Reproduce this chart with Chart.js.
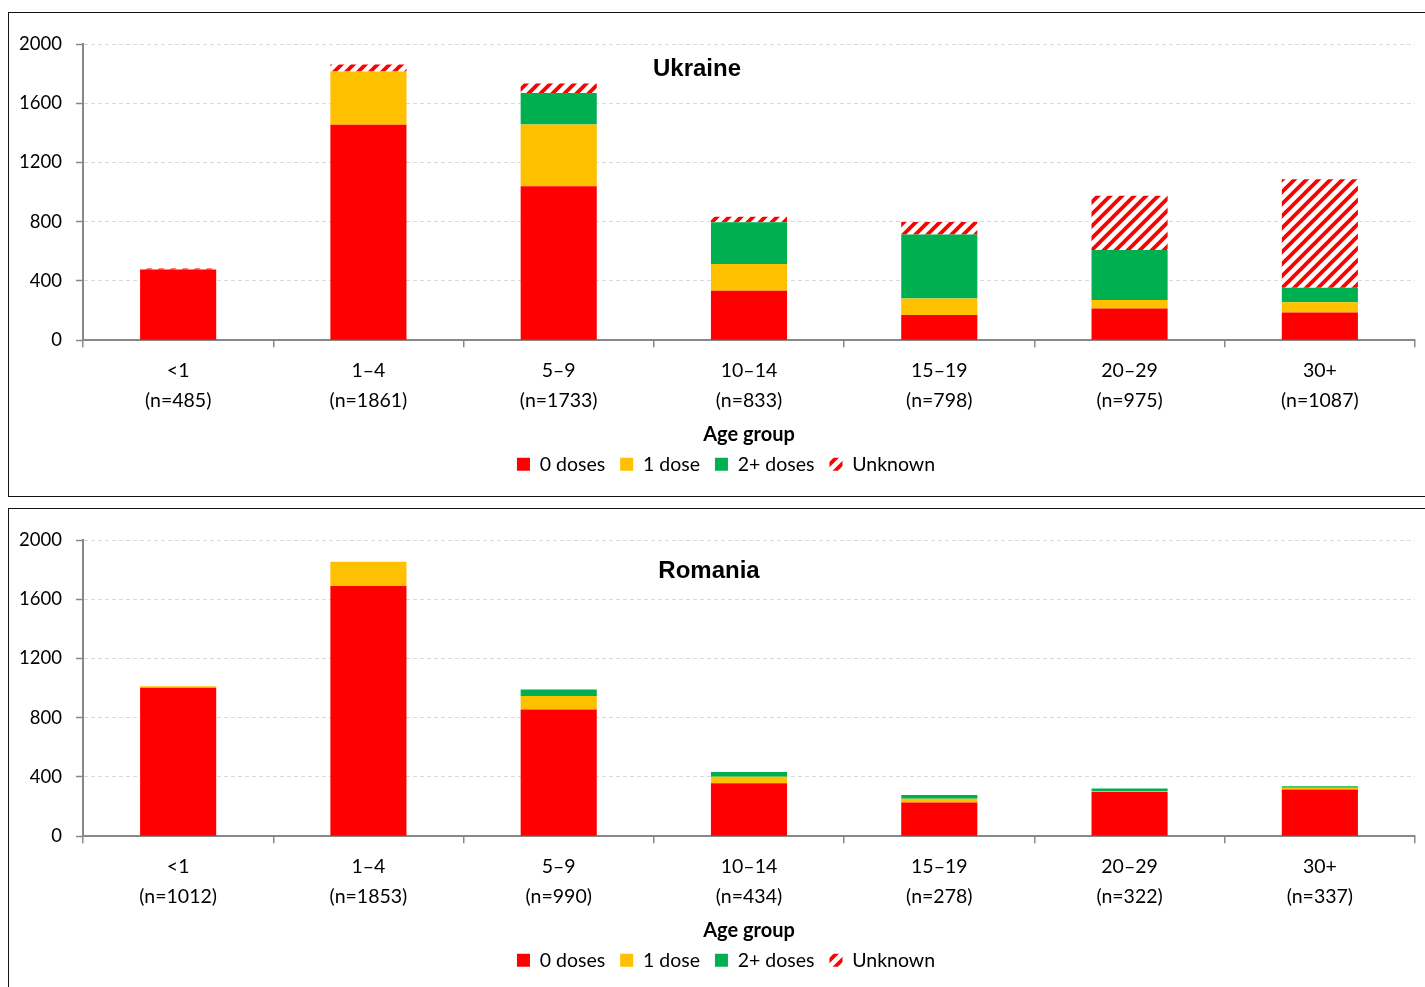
<!DOCTYPE html>
<html>
<head>
<meta charset="utf-8">
<script src="https://cdn.jsdelivr.net/npm/chart.js@4.4.1/dist/chart.umd.min.js"></script>
<style>
  html, body { margin: 0; padding: 0; background: #fff; overflow: hidden; }
  body { width: 1425px; height: 987px; position: relative; }
  .panel { position: absolute; left: 8px; width: 1440px; border: 1px solid #111; background: #fff; }
  #p1 { top: 12px; height: 483px; }
  #p2 { top: 508px; height: 600px; }
  .wrap { position: absolute; left: 0; top: 0; width: 1416px; }
  #p1 .wrap { height: 482px; }
  #p2 .wrap { height: 478px; }
</style>
</head>
<body>
<div class="panel" id="p1"><div class="wrap"><canvas id="c1"></canvas></div></div>
<div class="panel" id="p2"><div class="wrap"><canvas id="c2"></canvas></div></div>
<script>
// ---- Data ----
const ageGroups = ['<1', '1–4', '5–9', '10–14', '15–19', '20–29', '30+'];
const seriesNames = ['0 doses', '1 dose', '2+ doses', 'Unknown'];
const yTicks = [0, 400, 800, 1200, 1600, 2000];

const ukraineN = [485, 1861, 1733, 833, 798, 975, 1087];
const ukraineZero = [478, 1455, 1040, 334, 171, 214, 187];
const ukraineOne = [0, 359, 416, 180, 111, 57, 70];
const ukraineTwo = [0, 0, 214, 282, 431, 338, 97];
const ukraineUnknown = [7, 47, 63, 37, 85, 366, 733];

const romaniaN = [1012, 1853, 990, 434, 278, 322, 337];
const romaniaZero = [1003, 1690, 856, 357, 228, 298, 316];
const romaniaOne = [9, 163, 90, 45, 25, 8, 11];
const romaniaTwo = [0, 0, 44, 32, 25, 16, 10];
const romaniaUnknown = [0, 0, 0, 0, 0, 0, 0];

// ---- Styles ----
const RED = '#FF0000', YELLOW = '#FFC000', GREEN = '#00B050';
const FONT = 'Lato, "Open Sans", sans-serif';

function makeStripes() {
  const s = 12;
  const c = document.createElement('canvas');
  c.width = s; c.height = s;
  const g = c.getContext('2d');
  g.fillStyle = '#fff';
  g.fillRect(0, 0, s, s);
  g.strokeStyle = RED;
  g.lineWidth = 3.8;
  g.beginPath();
  for (let k = -1; k <= 1; k++) {
    g.moveTo(-2 + k * s, s + 2);
    g.lineTo(s + 2 + k * s, -2);
  }
  g.stroke();
  return g.createPattern(c, 'repeat');
}
const stripes = makeStripes();

const titlePlugin = {
  id: 'panelTitle',
  afterLayout(chart, args, opts) {
    if (chart.legend && opts.legendShift) {
      chart.legend.left += opts.legendShift;
      chart.legend.right += opts.legendShift;
    }
  },
  afterDraw(chart, args, opts) {
    const ctx = chart.ctx, a = chart.chartArea;
    ctx.save();
    ctx.font = 'bold 24px "Liberation Sans", Arial, sans-serif';
    ctx.fillStyle = '#000';
    ctx.textAlign = 'center';
    ctx.textBaseline = 'middle';
    ctx.fillText(opts.text, a.left + opts.dx, a.top + opts.dy);
    ctx.restore();
  }
};

function build(canvasId, title, dx, dy, bottomPad, nArr, zero, one, two, unknown) {
  const labels = ageGroups.map((g, i) => [g, '(n=' + nArr[i] + ')']);
  const data = [zero, one, two, unknown];
  const colors = [RED, YELLOW, GREEN, stripes];
  return new Chart(document.getElementById(canvasId), {
    type: 'bar',
    data: {
      labels,
      datasets: seriesNames.map((name, i) => ({
        label: name,
        data: data[i],
        backgroundColor: colors[i],
        borderWidth: 0,
        barPercentage: 0.4,
        categoryPercentage: 1.0
      }))
    },
    plugins: [titlePlugin],
    options: {
      responsive: true,
      maintainAspectRatio: false,
      animation: false,
      devicePixelRatio: 1,
      layout: { padding: { top: 31, right: 10, bottom: bottomPad, left: 0 } },
      plugins: {
        panelTitle: { text: title, dx: dx, dy: dy, legendShift: 14 },
        tooltip: { enabled: false },
        legend: {
          position: 'bottom',
          labels: {
            boxWidth: 13, boxHeight: 13,
            padding: 15,
            color: '#000',
            font: { family: FONT, size: 19.5 }
          }
        }
      },
      scales: {
        x: {
          stacked: true,
          offset: true,
          grid: {
            display: true, drawOnChartArea: false, drawTicks: true,
            tickLength: 7, color: '#888', lineWidth: 1.5, offset: true
          },
          border: { display: true, color: '#888', width: 2 },
          ticks: {
            color: '#000', padding: 9, maxRotation: 0, autoSkip: false,
            font: { family: FONT, size: 19.5, lineHeight: 1.52 }
          },
          title: {
            display: true, text: 'Age group', color: '#000',
            font: { family: FONT, size: 20, weight: 'bold' },
            padding: { top: -2, bottom: -7 }
          }
        },
        y: {
          stacked: true,
          min: 0, max: 2000,
          afterFit(scale) { scale.width = 74; },
          afterBuildTicks(scale) { scale.ticks = yTicks.map(v => ({ value: v })); },
          grid: {
            color: '#D9D9D9', lineWidth: 1, drawTicks: true, tickLength: 7,
            tickColor: '#888', tickWidth: 1.5
          },
          border: { display: true, color: '#888', width: 2, dash: [4, 3] },
          ticks: {
            color: '#000', padding: 14,
            font: { family: FONT, size: 18.5 },
            callback: (v) => String(v)
          }
        }
      }
    }
  });
}

build('c1', 'Ukraine', 614, 25, 11, ukraineN, ukraineZero, ukraineOne, ukraineTwo, ukraineUnknown);
build('c2', 'Romania', 626, 31, 7, romaniaN, romaniaZero, romaniaOne, romaniaTwo, romaniaUnknown);
</script>
</body>
</html>
